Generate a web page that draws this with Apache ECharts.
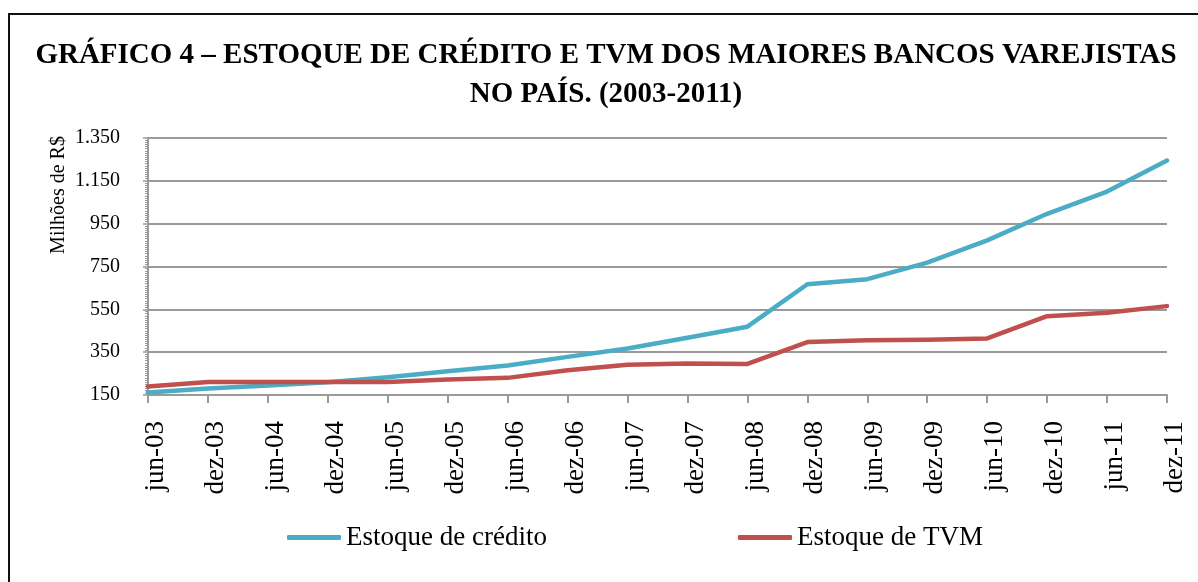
<!DOCTYPE html>
<html>
<head>
<meta charset="utf-8">
<script src="https://cdn.jsdelivr.net/npm/echarts@6/dist/echarts.min.js"></script>
<style>
  html, body { margin: 0; padding: 0; background: #fff; }
  #frame { position: absolute; left: 8px; top: 13px; width: 1300px; height: 700px;
           border-left: 2px solid #111; border-top: 2px solid #111; box-sizing: border-box; }
  #chart { position: absolute; left: 0; top: 0; width: 1198px; height: 582px; }
</style>
</head>
<body>
<div id="frame"></div>
<div id="chart"></div>
<script>
const titleText = 'GRÁFICO 4 – ESTOQUE DE CRÉDITO E TVM DOS MAIORES BANCOS VAREJISTAS\nNO PAÍS. (2003-2011)';
const yAxisTitle = 'Milhões de R$';
const categories = ['jun-03','dez-03','jun-04','dez-04','jun-05','dez-05','jun-06','dez-06','jun-07',
                    'dez-07','jun-08','dez-08','jun-09','dez-09','jun-10','dez-10','jun-11','dez-11'];
const seriesNames = ['Estoque de crédito', 'Estoque de TVM'];
const credito = [162, 180, 194, 209, 233, 261, 288, 328, 367, 417, 469, 667, 691, 768, 872, 996, 1100, 1245];
const tvm     = [190, 211, 211, 211, 211, 222, 230, 266, 291, 297, 295, 397, 406, 408, 414, 518, 534, 565];
const yMin = 150, yMax = 1350, yStep = 200;

const FONT = '"Liberation Serif", "DejaVu Serif", serif';
function fmt(v) {
  if (v >= 1000) return Math.floor(v / 1000) + '.' + String(v % 1000).padStart(3, '0');
  return String(v);
}

const chart = echarts.init(document.getElementById('chart'), null, { renderer: 'canvas' });
chart.setOption({
  backgroundColor: 'transparent',
  animation: false,
  title: {
    text: titleText,
    left: 606,
    textAlign: 'center',
    top: 36,
    padding: 0,
    textStyle: { fontFamily: FONT, fontWeight: 'bold', fontSize: 29, lineHeight: 39, color: '#000' }
  },
  graphic: [{
    type: 'text',
    x: 59, y: 195,
    rotation: Math.PI / 2,
    style: { text: yAxisTitle, font: '20px ' + FONT, fill: '#000', align: 'center', verticalAlign: 'middle' }
  }],
  grid: { left: 148, right: 31, top: 138, bottom: 187, containLabel: false },
  legend: [
    { left: 287, top: 524, padding: 0, data: [seriesNames[0]], icon: 'roundRect', itemWidth: 54, itemHeight: 5,
      textStyle: { fontFamily: FONT, fontSize: 27, color: '#000' } },
    { left: 738, top: 524, padding: 0, data: [seriesNames[1]], icon: 'roundRect', itemWidth: 54, itemHeight: 5,
      textStyle: { fontFamily: FONT, fontSize: 27, color: '#000' } }
  ],
  xAxis: {
    type: 'category',
    data: categories,
    boundaryGap: false,
    axisLine: { lineStyle: { color: '#9a9a9a', width: 2 } },
    axisTick: { show: true, length: 8, lineStyle: { color: '#9a9a9a', width: 2 } },
    axisLabel: { rotate: 90, margin: 26, fontFamily: FONT, fontSize: 27, color: '#000', interval: 0,
                 verticalAlign: 'top', lineHeight: 16 },
    splitLine: { show: false }
  },
  yAxis: {
    type: 'value',
    min: yMin, max: yMax, interval: yStep,
    axisLine: { show: true, lineStyle: { color: '#9a9a9a', width: 2 } },
    axisTick: { show: true, length: 5, lineStyle: { color: '#9a9a9a', width: 1.5 } },
    minorTick: { show: true, splitNumber: 20, length: 3, lineStyle: { color: '#9a9a9a', width: 1 } },
    axisLabel: { margin: 28, fontFamily: FONT, fontSize: 20, color: '#000', formatter: fmt },
    splitLine: { show: true, lineStyle: { color: '#9a9a9a', width: 2 } }
  },
  series: [
    { name: seriesNames[0], type: 'line', data: credito, showSymbol: false, symbol: 'none',
      color: '#4BACC6', lineStyle: { width: 4.5, color: '#4BACC6', cap: 'round', join: 'round' } },
    { name: seriesNames[1], type: 'line', data: tvm, showSymbol: false, symbol: 'none',
      color: '#C0504D', lineStyle: { width: 4.5, color: '#C0504D', cap: 'round', join: 'round' } }
  ]
});
</script>
</body>
</html>
